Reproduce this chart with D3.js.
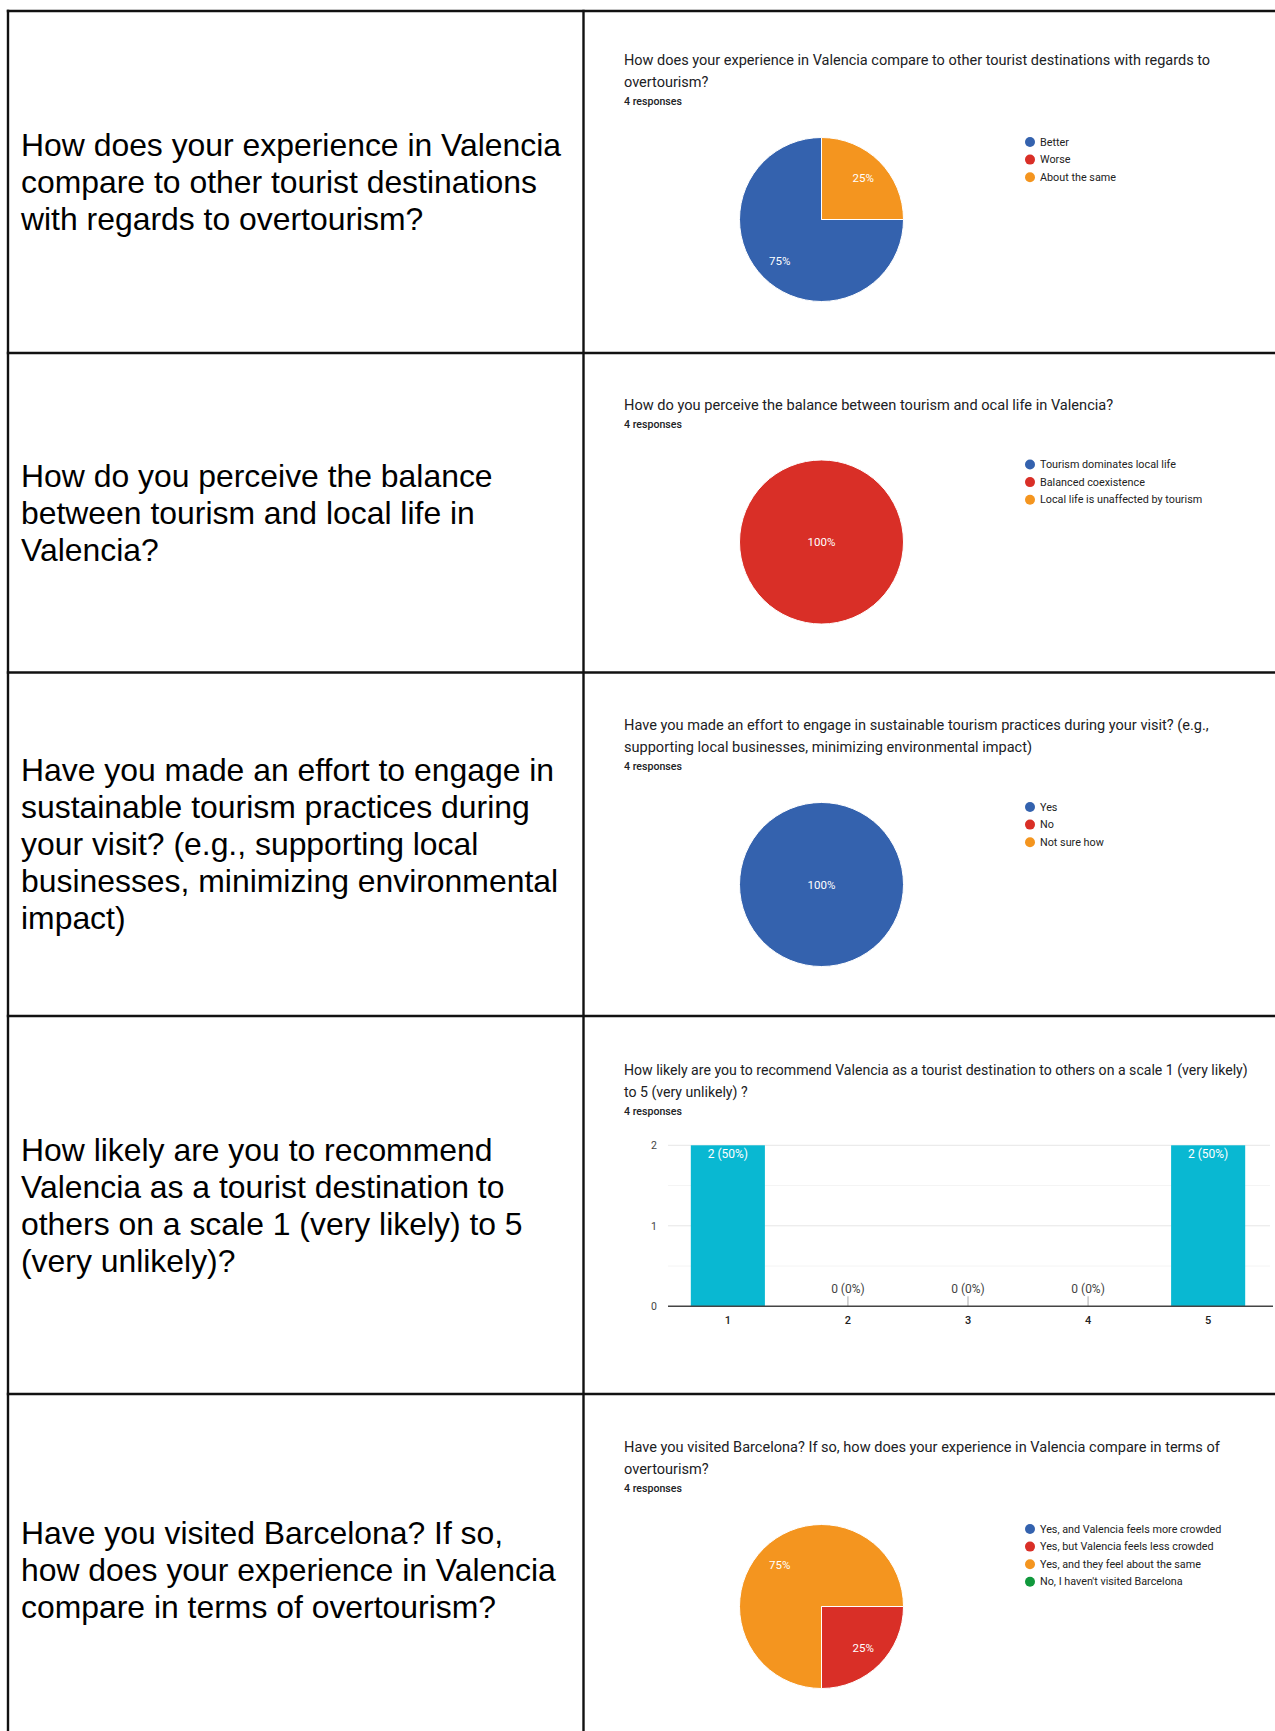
<!DOCTYPE html>
<html>
<head>
<meta charset="utf-8">
<script src="https://cdn.jsdelivr.net/npm/d3@7"></script>
<style>
  html, body { margin: 0; padding: 0; background: #fff; }
  svg { display: block; }
</style>
</head>
<body>
<svg id="sheet" width="1275" height="1731"></svg>
<script>
// ---------- content ----------
const questionLines = [
  ["How does your experience in Valencia", "compare to other tourist destinations", "with regards to overtourism?"],
  ["How do you perceive the balance", "between tourism and local life in", "Valencia?"],
  ["Have you made an effort to engage in", "sustainable tourism practices during", "your visit? (e.g., supporting local", "businesses, minimizing environmental", "impact)"],
  ["How likely are you to recommend", "Valencia as a tourist destination to", "others on a scale 1 (very likely) to 5", "(very unlikely)?"],
  ["Have you visited Barcelona? If so,", "how does your experience in Valencia", "compare in terms of overtourism?"]
];

const chartTitles = [
  ["How does your experience in Valencia compare to other tourist destinations with regards to", "overtourism?"],
  ["How do you perceive the balance between tourism and ocal life in Valencia?"],
  ["Have you made an effort to engage in sustainable tourism practices during your visit? (e.g.,", "supporting local businesses, minimizing environmental impact)"],
  ["How likely are you to recommend Valencia as a tourist destination to others on a scale 1 (very likely)", "to 5 (very unlikely) ?"],
  ["Have you visited Barcelona? If so, how does your experience in Valencia compare in terms of", "overtourism?"]
];

const responseCounts = [4, 4, 4, 4, 4];

const q1Labels = ["Better", "Worse", "About the same"];
const q1Values = [3, 0, 1];

const q2Labels = ["Tourism dominates local life", "Balanced coexistence", "Local life is unaffected by tourism"];
const q2Values = [0, 4, 0];

const q3Labels = ["Yes", "No", "Not sure how"];
const q3Values = [4, 0, 0];

const q4Scale = ["1", "2", "3", "4", "5"];
const q4Values = [2, 0, 0, 0, 2];
const q4Ticks = [0, 1, 2];

const q5Labels = ["Yes, and Valencia feels more crowded", "Yes, but Valencia feels less crowded", "Yes, and they feel about the same", "No, I haven't visited Barcelona"];
const q5Values = [0, 1, 3, 0];

const seriesColors = ["#3462ae", "#d92f27", "#f4951f", "#10983c"];
const barColor = "#09b8d2";

// ---------- layout ----------
const W = 1275, H = 1731;
const tableLeft = 8, tableTop = 11, midX = 583.5;
const rowEdges = [11, 353, 672.5, 1016, 1394, 1745];
// vertical start and type size of each chart header inside its cell
const headerTop = [60, 404.5, 725, 1069.5, 1447];
const headerSize = [14.5, 14.6, 14.55, 14.1, 14.55];

const svg = d3.select("#sheet");

// left column question text, vertically centred in each row
const qFont = 31.9, qLine = 37;
questionLines.forEach((lines, i) => {
  const cy = (rowEdges[i] + rowEdges[i + 1]) / 2;
  const y0 = cy - (lines.length - 1) * qLine / 2;
  const t = svg.append("text")
    .attr("font-family", "'Liberation Sans', Arial, sans-serif")
    .attr("font-size", qFont)
    .attr("fill", "#000");
  lines.forEach((ln, j) => {
    t.append("tspan").attr("x", 21).attr("y", y0 + j * qLine)
      .attr("dominant-baseline", "central").text(ln);
  });
});

// chart headers in right column; returns y of the "responses" line
const chartX = 624;
function header(i) {
  const y0 = headerTop[i];
  const t = svg.append("text")
    .attr("font-family", "Roboto, sans-serif")
    .attr("font-size", headerSize[i])
    .attr("fill", "#202124");
  chartTitles[i].forEach((ln, j) => {
    t.append("tspan").attr("x", chartX).attr("y", y0 + j * 22)
      .attr("dominant-baseline", "central").text(ln);
  });
  const ry = y0 + (chartTitles[i].length - 1) * 22 + 19.5;
  svg.append("text")
    .attr("x", chartX).attr("y", ry)
    .attr("dominant-baseline", "central")
    .attr("font-family", "Roboto, sans-serif")
    .attr("font-size", 10.6).attr("font-weight", 500)
    .attr("fill", "#202124")
    .text(responseCounts[i] + " responses");
  return ry;
}

// pie chart with legend (slices start at 3 o'clock, running clockwise)
const pieCx = 821.5, pieR = 82;
function pieChart(i, labels, values) {
  const ry = header(i);
  const cy = ry + 118;
  const total = d3.sum(values);
  const pie = d3.pie().sort(null)
    .startAngle(Math.PI / 2).endAngle(Math.PI / 2 + 2 * Math.PI);
  const arcs = pie(values);
  const arc = d3.arc().innerRadius(0).outerRadius(pieR);
  const labelArc = d3.arc().innerRadius(pieR * 0.72).outerRadius(pieR * 0.72);
  const g = svg.append("g").attr("transform", `translate(${pieCx},${cy})`);
  g.selectAll("path.slice").data(arcs.filter(d => d.value > 0)).join("path")
    .attr("class", "slice")
    .attr("d", arc)
    .attr("fill", d => seriesColors[d.index])
    .attr("stroke", "#fff").attr("stroke-width", 1);
  g.selectAll("text.pct").data(arcs.filter(d => d.value > 0)).join("text")
    .attr("class", "pct")
    .attr("transform", d => d.value === total ? "translate(0,0)" : `translate(${labelArc.centroid(d)})`)
    .attr("text-anchor", "middle")
    .attr("dominant-baseline", "central")
    .attr("font-family", "Roboto, sans-serif")
    .attr("font-size", 11.5)
    .attr("fill", "#fff")
    .text(d => d3.format(".0%")(d.value / total));

  const lg = svg.append("g").attr("transform", `translate(1030,${ry + 40.5})`);
  const item = lg.selectAll("g").data(labels).join("g")
    .attr("transform", (d, k) => `translate(0,${k * 17.6})`);
  item.append("circle").attr("r", 5).attr("fill", (d, k) => seriesColors[k]);
  item.append("text").attr("x", 10).attr("dominant-baseline", "central")
    .attr("font-family", "Roboto, sans-serif").attr("font-size", 10.8)
    .attr("fill", "#222").text(d => d);
}

pieChart(0, q1Labels, q1Values);
pieChart(1, q2Labels, q2Values);
pieChart(2, q3Labels, q3Values);
pieChart(4, q5Labels, q5Values);

// bar chart for the 1–5 recommendation scale
(function barChart() {
  const ry = header(3);
  const top = ry + 34.3, base = top + 161;
  const x = d3.scaleBand().domain(q4Scale).range([668, 1268])
    .paddingInner(0.383).paddingOuter(0.19);
  const y = d3.scaleLinear().domain([0, d3.max(q4Ticks)]).range([base, top]);
  const total = d3.sum(q4Values);

  // minor gridlines halfway between the labelled ticks
  const minor = d3.pairs(q4Ticks).map(([a, b]) => (a + b) / 2);
  svg.append("g").selectAll("line").data(minor).join("line")
    .attr("x1", 668).attr("x2", 1270)
    .attr("y1", d => y(d)).attr("y2", d => y(d))
    .attr("stroke", "#f4f4f4").attr("stroke-width", 1);
  svg.append("g").selectAll("line").data(q4Ticks.filter(t => t > 0)).join("line")
    .attr("x1", 668).attr("x2", 1270)
    .attr("y1", d => y(d)).attr("y2", d => y(d))
    .attr("stroke", "#e6e6e6").attr("stroke-width", 1);

  const yAxis = svg.append("g").attr("transform", "translate(668,0)")
    .call(d3.axisLeft(y).tickValues(q4Ticks).tickSize(0).tickPadding(11).tickFormat(d3.format("d")));
  yAxis.select(".domain").remove();
  yAxis.selectAll("text").attr("font-family", "Roboto, sans-serif")
    .attr("font-size", 10.5).attr("fill", "#444");

  svg.append("g").selectAll("rect").data(q4Values).join("rect")
    .attr("x", (d, k) => x(q4Scale[k]))
    .attr("width", x.bandwidth())
    .attr("y", d => y(d))
    .attr("height", d => y(0) - y(d))
    .attr("fill", barColor);

  // small stub for empty categories
  svg.append("g").selectAll("line").data(q4Values.map((v, k) => ({ v, k })).filter(d => d.v === 0)).join("line")
    .attr("x1", d => x(q4Scale[d.k]) + x.bandwidth() / 2)
    .attr("x2", d => x(q4Scale[d.k]) + x.bandwidth() / 2)
    .attr("y1", y(0)).attr("y2", y(0) - 10)
    .attr("stroke", "#aaa").attr("stroke-width", 1);

  const fmt = d => `${d} (${d3.format(".0%")(d / total)})`;
  svg.append("g").selectAll("text").data(q4Values).join("text")
    .attr("x", (d, k) => x(q4Scale[k]) + x.bandwidth() / 2)
    .attr("y", d => d > 0 ? y(d) + 8.5 : y(0) - 17)
    .attr("text-anchor", "middle").attr("dominant-baseline", "central")
    .attr("font-family", "Roboto, sans-serif").attr("font-size", 12)
    .attr("fill", d => d > 0 ? "#fff" : "#444")
    .text(fmt);

  svg.append("line").attr("x1", 668).attr("x2", 1273)
    .attr("y1", y(0)).attr("y2", y(0))
    .attr("stroke", "#444").attr("stroke-width", 1.5);

  const xAxis = svg.append("g").attr("transform", `translate(0,${base})`)
    .call(d3.axisBottom(x).tickSize(0).tickPadding(10));
  xAxis.select(".domain").remove();
  xAxis.selectAll("text").attr("font-family", "Roboto, sans-serif")
    .attr("font-size", 11).attr("font-weight", 500).attr("fill", "#222");
})();

// table grid
const grid = svg.append("g").attr("stroke", "#111").attr("stroke-width", 2.4).attr("fill", "none");
grid.append("line").attr("x1", tableLeft).attr("x2", tableLeft).attr("y1", tableTop - 1.2).attr("y2", H);
grid.append("line").attr("x1", midX).attr("x2", midX).attr("y1", tableTop - 1.2).attr("y2", H);
rowEdges.slice(0, 5).forEach(yy => {
  grid.append("line").attr("x1", tableLeft - 1.2).attr("x2", W).attr("y1", yy).attr("y2", yy);
});
</script>
</body>
</html>
